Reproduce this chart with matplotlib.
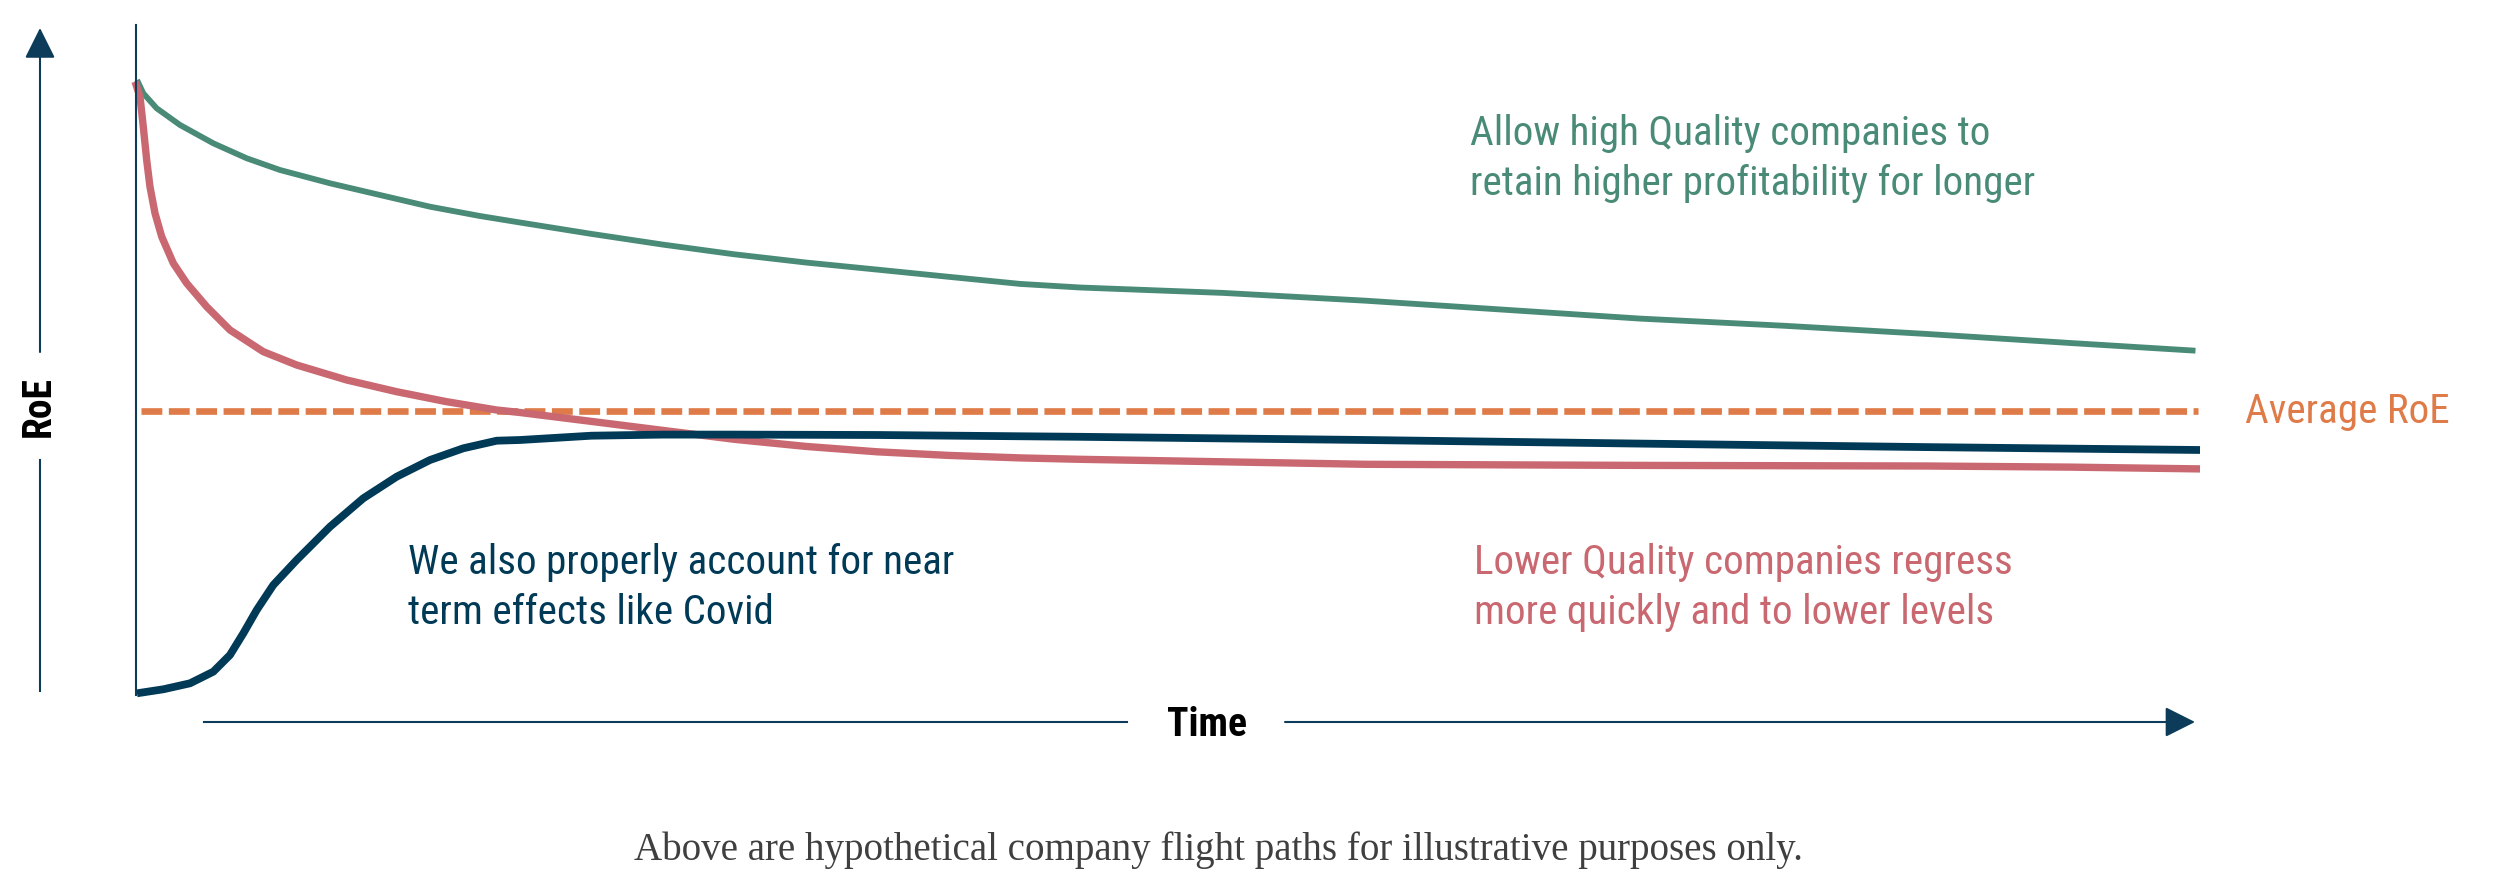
import matplotlib.pyplot as plt
from matplotlib.lines import Line2D

# hypothetical flight paths: time in years, RoE in %
time_high = [0.0, 0.061, 0.191, 0.418, 0.741, 1.066, 1.389, 1.875, 2.36, 2.846,
             3.331, 3.72, 4.414, 5.108, 5.802, 6.495, 7.189, 7.883, 8.577, 9.16,
             10.548, 11.935, 13.323, 14.6, 15.988, 17.375, 18.763, 19.995]
roe_high = [31.55, 30.885, 30.135, 29.3, 28.385, 27.635, 27.05, 26.385, 25.8, 25.215,
            24.75, 24.425, 23.855, 23.32, 22.835, 22.425, 22.07, 21.71, 21.355, 21.175,
            20.905, 20.515, 20.05, 19.62, 19.265, 18.855, 18.405, 18.015]

time_low = [-0.019, 0.029, 0.061, 0.094, 0.126, 0.175, 0.24, 0.353, 0.483, 0.677,
            0.903, 1.227, 1.551, 2.037, 2.522, 3.008, 3.494, 3.72, 4.414, 5.108,
            5.802, 6.495, 7.189, 7.883, 8.577, 9.16, 11.935, 14.6, 17.375, 18.763,
            20.039]
roe_low = [31.465, 30.715, 29.215, 27.55, 26.215, 24.885, 23.715, 22.385, 21.385, 20.215,
           19.05, 17.965, 17.3, 16.55, 15.965, 15.465, 15.05, 14.925, 14.48, 14.03,
           13.585, 13.23, 12.96, 12.78, 12.655, 12.585, 12.335, 12.28, 12.25, 12.195,
           12.105]

time_covid = [0.0, 0.255, 0.515, 0.741, 0.903, 1.033, 1.163, 1.324, 1.551, 1.875,
              2.198, 2.522, 2.846, 3.169, 3.494, 3.72, 4.414, 5.108, 5.802, 7.189,
              9.16, 11.935, 14.6, 17.375, 20.039]
roe_covid = [0.885, 1.085, 1.385, 1.965, 2.8, 3.885, 5.05, 6.3, 7.55, 9.215,
             10.635, 11.715, 12.55, 13.135, 13.515, 13.55, 13.765, 13.82, 13.82, 13.8,
             13.71, 13.55, 13.37, 13.195, 13.05]

avg_roe = 15.0
avg_span = [0.04, 20.02]

label_high = ["Allow high Quality companies to", "retain higher profitability for longer"]
label_low = ["Lower Quality companies regress", "more quickly and to lower levels"]
label_covid = ["We also properly account for near", "term effects like Covid"]
label_avg = "Average RoE"
footer = "Above are hypothetical company flight paths for illustrative purposes only."

GREEN = "#4A8B78"
RED = "#C96870"
NAVY = "#013A57"
ORANGE = "#DF7B48"
AXIS = "#0D3B5A"

W, H = 2504, 890
SANS = ["Roboto Condensed", "Roboto", "DejaVu Sans"]
FS = 29.6
plt.rcParams["lines.scale_dashes"] = False


def fx(px):
    return px / W


def fy(py):
    return 1 - py / H


def main():
    fig = plt.figure(figsize=(W / 100, H / 100), dpi=100)
    ax = fig.add_axes([0, 0, 1, 1])
    ax.set_xlim(-137 / 102.95, (W - 137) / 102.95)
    ax.set_ylim(15 + (411 - H) / 20, 15 + 411 / 20)
    ax.axis("off")

    # curves
    ax.plot(avg_span, [avg_roe, avg_roe], color=ORANGE, lw=4.8,
            dashes=(15.0, 4.7), dash_capstyle="butt")
    ax.plot(time_high, roe_high, color=GREEN, lw=4.2,
            solid_capstyle="butt", solid_joinstyle="round")
    ax.plot(time_low, roe_low, color=RED, lw=5.3,
            solid_capstyle="butt", solid_joinstyle="round")
    ax.plot(time_covid, roe_covid, color=NAVY, lw=5.6,
            solid_capstyle="butt", solid_joinstyle="round")

    # vertical axis line
    fig.add_artist(Line2D([fx(136), fx(136)], [fy(25), fy(695)],
                          color=AXIS, lw=1.5, transform=fig.transFigure))

    # RoE arrow (with gap for label)
    fig.add_artist(Line2D([fx(40), fx(40)], [fy(460), fy(691)],
                          color=AXIS, lw=1.5, transform=fig.transFigure))
    ax.annotate("", xy=(fx(40), fy(28)), xytext=(fx(40), fy(352)),
                xycoords="figure fraction", textcoords="figure fraction",
                arrowprops=dict(arrowstyle="-|>,head_length=1.9,head_width=0.95",
                                mutation_scale=10, lw=1.5, color=AXIS,
                                shrinkA=0, shrinkB=0))
    fig.text(fx(39), fy(406), "RoE", rotation=90, ha="center", va="center",
             fontsize=28.5, fontweight="bold", family=SANS, color="black")

    # Time arrow (with gap for label)
    fig.add_artist(Line2D([fx(204), fx(1127)], [fy(722), fy(722)],
                          color=AXIS, lw=1.5, transform=fig.transFigure))
    ax.annotate("", xy=(fx(2195), fy(722)), xytext=(fx(1285), fy(722)),
                xycoords="figure fraction", textcoords="figure fraction",
                arrowprops=dict(arrowstyle="-|>,head_length=1.87,head_width=0.94",
                                mutation_scale=10, lw=1.5, color=AXIS,
                                shrinkA=0, shrinkB=0))
    fig.text(fx(1207), fy(736), "Time", ha="center", va="baseline",
             fontsize=28.5, fontweight="bold", family=SANS, color="black")

    # annotations
    for i, line in enumerate(label_high):
        fig.text(fx(1470), fy(145 + 50 * i), line, ha="left", va="baseline",
                 fontsize=FS, family=SANS, color=GREEN)
    for i, line in enumerate(label_low):
        fig.text(fx(1474), fy(574 + 50 * i), line, ha="left", va="baseline",
                 fontsize=FS, family=SANS, color=RED)
    for i, line in enumerate(label_covid):
        fig.text(fx(408), fy(574 + 50 * i), line, ha="left", va="baseline",
                 fontsize=FS, family=SANS, color=NAVY)
    fig.text(fx(2245), fy(423), label_avg, ha="left", va="baseline",
             fontsize=FS, family=SANS, color=ORANGE)

    fig.text(fx(1218), fy(860), footer, ha="center", va="baseline",
             fontsize=28.1, family=["Liberation Serif", "DejaVu Serif"], color="#3F3F3F")

    fig.savefig("out.png", dpi=100)


if __name__ == "__main__":
    main()
